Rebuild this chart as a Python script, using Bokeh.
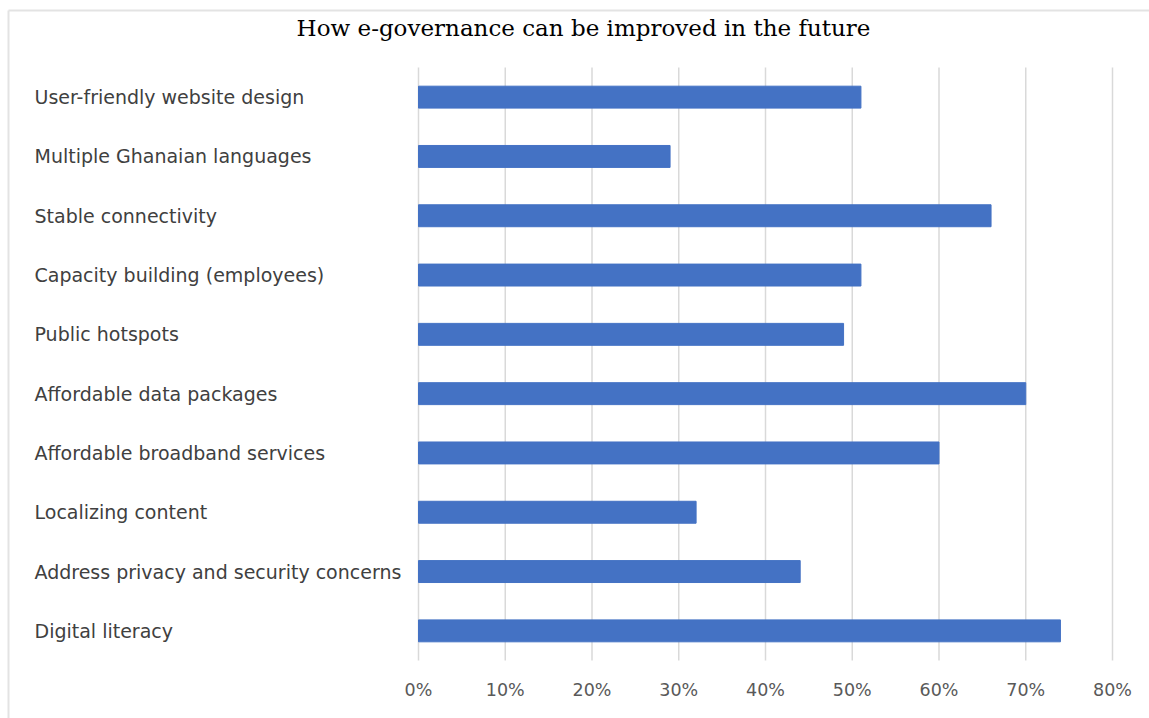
from bokeh.plotting import figure
from bokeh.models import ColumnDataSource, Range1d
from bokeh.core.properties import value
from bokeh.embed import file_html
from bokeh.resources import INLINE

title_text = "How e-governance can be improved in the future"
categories = [
    "User-friendly website design",
    "Multiple Ghanaian languages",
    "Stable connectivity",
    "Capacity building (employees)",
    "Public hotspots",
    "Affordable data packages",
    "Affordable broadband services",
    "Localizing content",
    "Address privacy and security concerns",
    "Digital literacy",
]
values = [0.51, 0.29, 0.66, 0.51, 0.49, 0.70, 0.60, 0.32, 0.44, 0.74]
tick_values = [0.0, 0.1, 0.2, 0.3, 0.4, 0.5, 0.6, 0.7, 0.8]
tick_labels = ["0%", "10%", "20%", "30%", "40%", "50%", "60%", "70%", "80%"]

# ---- layout (pixels) ----
W, H = 1149, 718
X0_PX, X80_PX = 418, 1112          # pixel of 0% and 80%
PLOT_TOP_PX, PLOT_BOT_PX = 67, 660  # top/bottom of the bar area
N = len(categories)
ROW_PX = (PLOT_BOT_PX - PLOT_TOP_PX) / N
XSCALE = (X80_PX - X0_PX) / tick_values[-1]


def px_x(px):
    return (px - X0_PX) / XSCALE


def px_y(py):
    # rows are numbered 0 (bottom) .. N-1 (top)
    return -0.5 + (PLOT_BOT_PX - py) / ROW_PX


# row positions: first category on top
rows = [N - 1 - i for i in range(N)]
src = ColumnDataSource(dict(cat=categories, val=values, row=rows))

p = figure(width=W, height=H, output_backend="svg", toolbar_location=None,
           x_range=Range1d(px_x(0), px_x(W)), y_range=Range1d(px_y(H), px_y(0)),
           min_border=0)
p.outline_line_color = None
p.axis.visible = False
p.grid.visible = False
p.background_fill_color = "white"
p.border_fill_color = "white"

# frame lines (top and left), light gray
p.segment(x0=[px_x(8)], y0=[px_y(10)], x1=[px_x(W)], y1=[px_y(10)],
          line_color="#e3e3e3", line_width=2)
p.segment(x0=[px_x(8)], y0=[px_y(10)], x1=[px_x(8)], y1=[px_y(H)],
          line_color="#e3e3e3", line_width=2)

# vertical gridlines
p.segment(x0=tick_values, x1=tick_values,
          y0=[-0.5] * len(tick_values), y1=[px_y(PLOT_TOP_PX)] * len(tick_values),
          line_color="#d9d9d9", line_width=1.5)

# bars
p.hbar(y="row", right="val", left=0, height=0.37, source=src,
       fill_color="#4472C4", line_color="#4472C4")

# category labels (left aligned)
p.text(x=px_x(34), y="row", text="cat", source=src,
       text_align="left", text_baseline="middle",
       text_font=value("DejaVu Sans"), text_font_size="19px",
       text_color="#404040")

# tick labels
p.text(x=tick_values, y=[px_y(689)] * len(tick_values), text=tick_labels,
       text_align="center", text_baseline="middle",
       text_font=value("DejaVu Sans"), text_font_size="17.5px",
       text_color="#595959")

# title
p.text(x=[px_x(583)], y=[px_y(27)], text=[title_text],
       text_align="center", text_baseline="middle",
       text_font=value("DejaVu Serif"), text_font_size="23px",
       text_color="#000000")

open("out.html", "w").write(file_html(p, INLINE))
